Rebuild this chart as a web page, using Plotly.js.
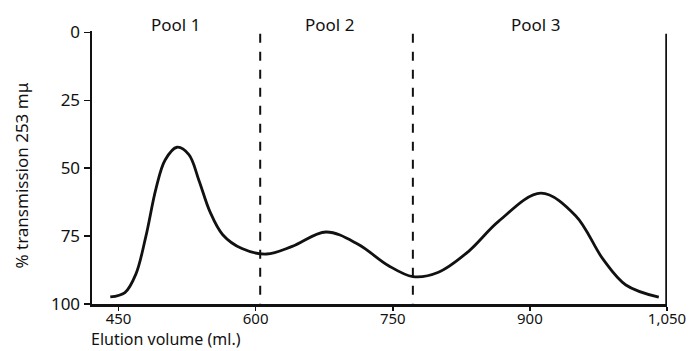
<!DOCTYPE html>
<html>
<head>
<meta charset="utf-8">
<script src="https://cdn.plot.ly/plotly-3.0.1.min.js"></script>
<style>html,body{margin:0;padding:0;background:#fff;}#chart{width:690px;height:351px;}</style>
</head>
<body>
<div id="chart"></div>
<script>
const elutionVolume = [441, 457, 469, 480, 491, 501, 514, 527, 538, 550, 564, 585, 612, 640, 677, 712, 745, 772, 800, 833, 866, 912, 950, 980, 1005, 1041];
const transmission = [97.4, 95.8, 89.0, 75.0, 57.5, 47.0, 42.3, 45.0, 54.5, 66.0, 74.5, 79.6, 81.6, 78.8, 73.5, 78.0, 85.8, 89.9, 88.3, 80.6, 69.5, 59.2, 67.5, 83.5, 93.0, 97.5];
const poolBoundaries = [605, 772];
const endVolume = 1050;
const poolNames = ["Pool 1", "Pool 2", "Pool 3"];
const poolCenters = [512, 681, 906];
const xTickVals = [450, 600, 750, 900, 1050];
const xTickText = ["450", "600", "750", "900", "1,050"];
const yTickVals = [0, 25, 50, 75, 100];
const yTickText = ["0", "25", "50", "75", "100"];

const FONT = "Noto Sans, Lato, sans-serif";

const shapes = poolBoundaries.map(v => ({
  type: "line", xref: "x", yref: "y", x0: v, x1: v, y0: 0.5, y1: 100,
  line: {color: "#111", width: 2, dash: "dash"}
}));
shapes.push({
  type: "line", xref: "x", yref: "y", x0: endVolume, x1: endVolume, y0: 0.5, y1: 100,
  line: {color: "#111", width: 3.5}
});

const annotations = poolNames.map((n, i) => ({
  text: n, x: poolCenters[i], xref: "x", y: 1.022, yref: "paper",
  xanchor: "center", yanchor: "middle", showarrow: false,
  font: {family: FONT, size: 17, color: "#111"}
}));
annotations.push({
  text: "% transmission 253 mμ", xref: "paper", yref: "paper",
  x: -0.122, y: 0.47, textangle: -90, xanchor: "center", yanchor: "middle",
  showarrow: false, font: {family: FONT, size: 17, color: "#111"}
});
annotations.push({
  text: "Elution volume (ml.)", xref: "paper", yref: "paper",
  x: -0.003, y: -0.172, xanchor: "left", yanchor: "bottom",
  showarrow: false, borderpad: 0,
  font: {family: FONT, size: 16, color: "#111"}
});

const data = [{
  x: elutionVolume, y: transmission, type: "scatter", mode: "lines",
  line: {color: "#111", width: 2.8, shape: "spline", smoothing: 1},
  hoverinfo: "skip"
}];

const layout = {
  width: 690, height: 351,
  margin: {l: 92, r: 23, t: 31, b: 47},
  paper_bgcolor: "#fff", plot_bgcolor: "#fff",
  showlegend: false,
  font: {family: FONT, size: 16, color: "#111"},
  xaxis: {
    range: [421, 1050], showgrid: false, zeroline: false,
    showline: true, linecolor: "#111", linewidth: 2.5,
    ticks: "outside", ticklen: 4, tickwidth: 1.5, tickcolor: "#111",
    ticklabelstandoff: -5,
    tickvals: xTickVals, ticktext: xTickText,
    tickfont: {family: FONT, size: 15, color: "#111"}
  },
  yaxis: {
    range: [100, -0.5], showgrid: false, zeroline: false,
    showline: true, linecolor: "#111", linewidth: 2.5,
    ticks: "outside", ticklen: 6, tickwidth: 1.5, tickcolor: "#111",
    tickvals: yTickVals, ticktext: yTickText,
    tickfont: {family: FONT, size: 17, color: "#111"}
  },
  shapes: shapes,
  annotations: annotations
};

Plotly.newPlot("chart", data, layout, {displayModeBar: false, staticPlot: true});
</script>
</body>
</html>
